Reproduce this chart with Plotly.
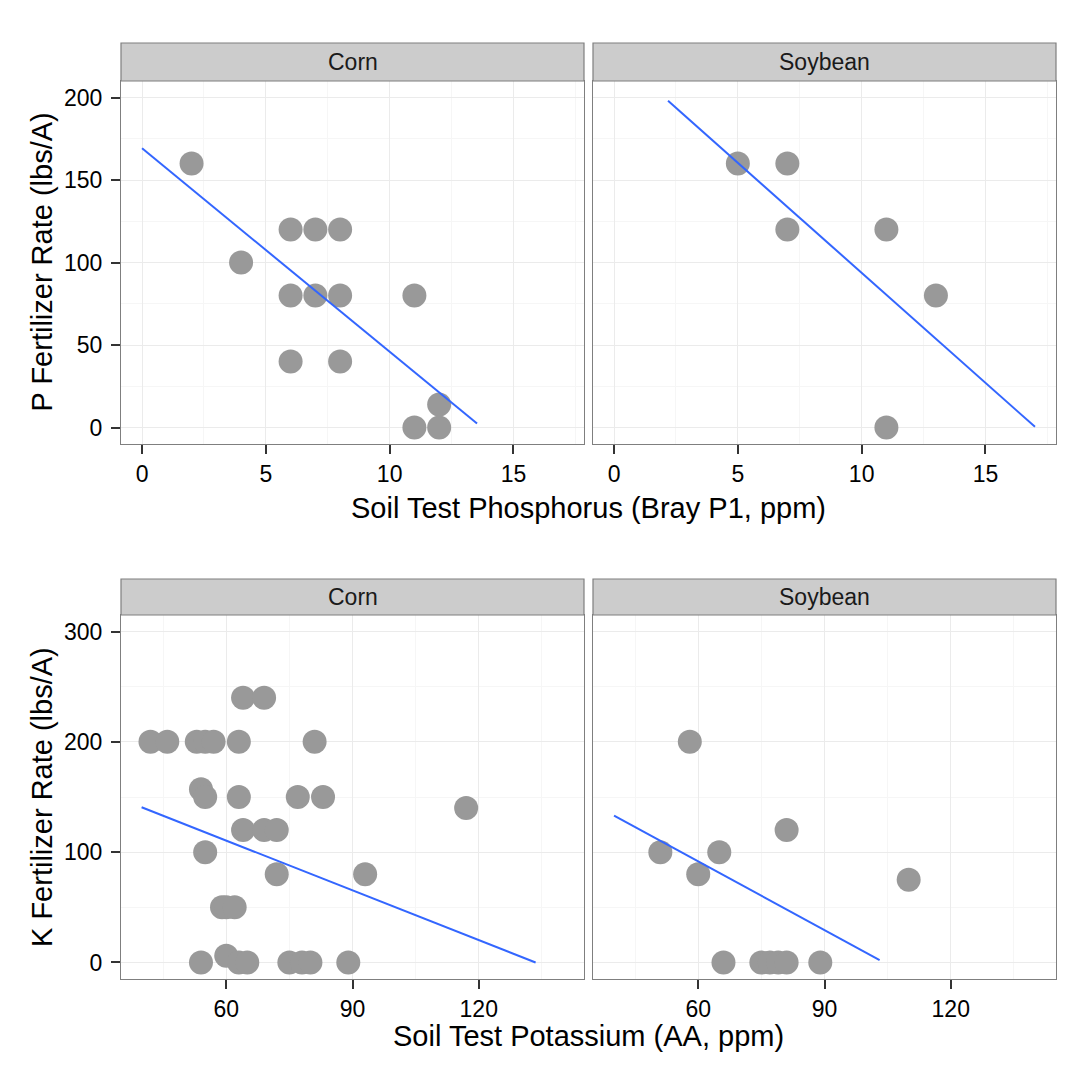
import plotly.graph_objects as go

# ---------------- data ----------------
facets = ["Corn", "Soybean"]

# Phosphorus panels
p_corn_x = [2, 4, 6, 7, 8, 6, 7, 8, 11, 6, 8, 12, 11, 12]
p_corn_y = [160, 100, 120, 120, 120, 80, 80, 80, 80, 40, 40, 14, 0, 0]
p_soy_x = [5, 7, 7, 11, 13, 11]
p_soy_y = [160, 160, 120, 120, 80, 0]
p_corn_fit_x = [0, 13.53]
p_corn_fit_y = [169.2, 2.4]
p_soy_fit_x = [2.18, 17.0]
p_soy_fit_y = [198.0, 0.4]

# Potassium panels
k_corn_x = [42, 46, 53, 55, 57, 63, 81, 64, 69, 54, 55, 63, 77, 83, 117,
            64, 69, 72, 55, 72, 93, 59, 60, 62, 54, 60, 63, 65, 75, 78, 80, 89]
k_corn_y = [200, 200, 200, 200, 200, 200, 200, 240, 240, 157, 150, 150, 150, 150, 140,
            120, 120, 120, 100, 80, 80, 50, 50, 50, 0, 6, 0, 0, 0, 0, 0, 0]
k_soy_x = [58, 81, 51, 65, 60, 110, 66, 75, 77, 79, 81, 89]
k_soy_y = [200, 120, 100, 100, 80, 75, 0, 0, 0, 0, 0, 0]
k_corn_fit_x = [39.9, 133.5]
k_corn_fit_y = [140.7, 0.0]
k_soy_fit_x = [40.0, 103.1]
k_soy_fit_y = [133.2, 2.1]

p_x_ticks = [0, 5, 10, 15]
p_y_ticks = [0, 50, 100, 150, 200]
k_x_ticks = [60, 90, 120]
k_y_ticks = [0, 100, 200, 300]

p_x_title = "Soil Test Phosphorus (Bray P1, ppm)"
p_y_title = "P Fertilizer Rate (lbs/A)"
k_x_title = "Soil Test Potassium (AA, ppm)"
k_y_title = "K Fertilizer Rate (lbs/A)"

# ---------------- geometry / style ----------------
W, H = 1053, 1051
OFF = 8  # page body margin
FONT = "Liberation Sans, Arial, sans-serif"


def fx(px):
    return (px - OFF) / W


def fy(py):
    return 1 - (py - OFF) / H


col_px = [(121, 584), (593, 1056)]
rows = {
    "top": dict(plot=(81, 444), strip=(43, 81)),
    "bot": dict(plot=(615, 979), strip=(579, 615)),
}


def minor_vals(ticks, lo, hi):
    step = ticks[1] - ticks[0]
    vals = []
    v = ticks[0] - step / 2
    while v <= hi:
        if v >= lo:
            vals.append(v)
        v += step
    return vals


def axis_common(tickvals, rng, show_labels=True, show_ticks=True):
    return dict(
        range=rng, tickmode="array", tickvals=tickvals,
        showline=True, mirror=True, linecolor="#7f7f7f", linewidth=1.2,
        showgrid=True, gridcolor="#ebebeb", gridwidth=1.3,
        zeroline=False,
        ticks="outside" if show_ticks else "", ticklen=9, tickwidth=1.6, tickcolor="#333333",
        showticklabels=show_labels,
        tickfont=dict(family=FONT, size=23, color="#000000"),
        minor=dict(tickmode="array", tickvals=minor_vals(tickvals, rng[0], rng[1]),
                   showgrid=True, gridcolor="#f6f6f6", gridwidth=1.3, ticks=""),
        fixedrange=True,
    )


fig = go.Figure()

panels = [
    # (axis index, row, col, x, y, fitx, fity, xticks, yticks, xrange, yrange)
    (1, "top", 0, p_corn_x, p_corn_y, p_corn_fit_x, p_corn_fit_y, p_x_ticks, p_y_ticks, [-0.85, 17.85], [-10, 210]),
    (2, "top", 1, p_soy_x, p_soy_y, p_soy_fit_x, p_soy_fit_y, p_x_ticks, p_y_ticks, [-0.85, 17.85], [-10, 210]),
    (3, "bot", 0, k_corn_x, k_corn_y, k_corn_fit_x, k_corn_fit_y, k_x_ticks, k_y_ticks, [35, 145], [-15, 315]),
    (4, "bot", 1, k_soy_x, k_soy_y, k_soy_fit_x, k_soy_fit_y, k_x_ticks, k_y_ticks, [35, 145], [-15, 315]),
]

layout = dict(
    width=W, height=H,
    margin=dict(l=0, r=0, t=0, b=0),
    paper_bgcolor="white", plot_bgcolor="white",
    showlegend=False,
    font=dict(family=FONT, color="#000000"),
)
shapes = []
annotations = []

for idx, row, col, xs, ys, fx_, fy_, xt, yt, xr, yr in panels:
    sfx = "" if idx == 1 else str(idx)
    xa = "x" + sfx
    ya = "y" + sfx
    x0, x1 = col_px[col]
    p0, p1 = rows[row]["plot"]
    s0, s1 = rows[row]["strip"]

    xax = axis_common(xt, xr)
    xax.update(domain=[fx(x0), fx(x1)], anchor=ya)
    yax = axis_common(yt, yr, show_labels=(col == 0), show_ticks=(col == 0))
    yax.update(domain=[fy(p1), fy(p0)], anchor=xa, ticklabelstandoff=4)
    layout["xaxis" + sfx] = xax
    layout["yaxis" + sfx] = yax

    fig.add_trace(go.Scatter(
        x=xs, y=ys, mode="markers", xaxis=xa, yaxis=ya,
        marker=dict(size=24, color="#999999", line=dict(width=0)),
        hoverinfo="x+y",
    ))
    fig.add_trace(go.Scatter(
        x=fx_, y=fy_, mode="lines", xaxis=xa, yaxis=ya,
        line=dict(color="#3366FF", width=2),
        hoverinfo="skip",
    ))

    shapes.append(dict(
        type="rect", xref="paper", yref="paper",
        x0=fx(x0), x1=fx(x1), y0=fy(s1), y1=fy(s0),
        fillcolor="#cccccc", line=dict(color="#7f7f7f", width=1.2), layer="above",
    ))
    annotations.append(dict(
        text=facets[col], xref="paper", yref="paper",
        x=(fx(x0) + fx(x1)) / 2, y=(fy(s0) + fy(s1)) / 2,
        xanchor="center", yanchor="middle", showarrow=False,
        font=dict(family=FONT, size=23, color="#1a1a1a"),
    ))

center_x = (fx(121) + fx(1056)) / 2
annotations += [
    dict(text=p_x_title, xref="paper", yref="paper", x=center_x, y=fy(508),
         xanchor="center", yanchor="middle", showarrow=False,
         font=dict(family=FONT, size=29, color="#000000")),
    dict(text=k_x_title, xref="paper", yref="paper", x=center_x, y=fy(1036),
         xanchor="center", yanchor="middle", showarrow=False,
         font=dict(family=FONT, size=29, color="#000000")),
    dict(text=p_y_title, xref="paper", yref="paper", x=fx(42), y=(fy(81) + fy(444)) / 2,
         xanchor="center", yanchor="middle", showarrow=False, textangle=-90,
         font=dict(family=FONT, size=29, color="#000000")),
    dict(text=k_y_title, xref="paper", yref="paper", x=fx(42), y=(fy(615) + fy(979)) / 2,
         xanchor="center", yanchor="middle", showarrow=False, textangle=-90,
         font=dict(family=FONT, size=29, color="#000000")),
]

layout["shapes"] = shapes
layout["annotations"] = annotations
fig.update_layout(**layout)

fig.write_html("out.html")
